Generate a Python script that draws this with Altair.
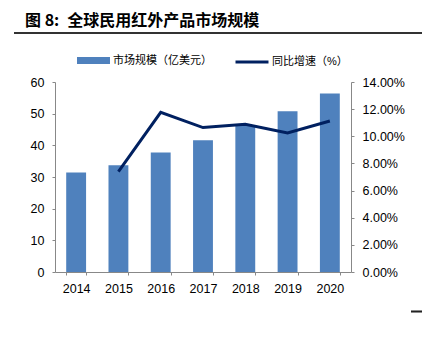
import altair as alt
import pandas as pd

years = ["2014", "2015", "2016", "2017", "2018", "2019", "2020"]
market = [31.4, 33.7, 37.7, 41.6, 46.2, 50.8, 56.4]
growth = [None, 0.0739, 0.1177, 0.1064, 0.1088, 0.1024, 0.1113]
bar_label = "市场规模（亿美元）"
line_label = "同比增速（%）"
left_ticks = [0, 10, 20, 30, 40, 50, 60]
right_ticks = [0, 0.02, 0.04, 0.06, 0.08, 0.10, 0.12, 0.14]
title_text = "图 8:\u2002全球民用红外产品市场规模"

df = pd.DataFrame({"year": years, "market": market, "growth": growth})
df["s1"] = bar_label
df["s2"] = line_label

FONT = "Liberation Sans, Noto Sans CJK SC"
AXC = "#888888"

base = alt.Chart(df).encode(
    x=alt.X(
        "year:N",
        title=None,
        scale=alt.Scale(paddingInner=0.53, paddingOuter=0.265),
        axis=alt.Axis(
            labelAngle=0, labelFontSize=12.5, labelColor="#000000", labelFont=FONT,
            domainColor=AXC, tickColor=AXC, tickSize=3, tickBand="extent",
            labelPadding=7,
        ),
    )
)

bars = base.mark_bar(color="#4F81BD").encode(
    y=alt.Y(
        "market:Q",
        title=None,
        scale=alt.Scale(domain=[0, 60], nice=False),
        axis=alt.Axis(
            values=left_ticks, grid=False, domainColor=AXC, tickColor=AXC, tickSize=3,
            labelFontSize=12.5, labelColor="#000000", labelFont=FONT, labelPadding=8,
        ),
    ),
    fill=alt.Fill(
        "s1:N",
        scale=alt.Scale(range=["#4F81BD"]),
        legend=alt.Legend(
            title=None, orient="none", legendX=30, legendY=-30, padding=0,
            symbolType="M-2,-0.42H2V0.42H-2Z", symbolSize=272, symbolStrokeWidth=0,
            labelFontSize=11, labelFont=FONT, labelColor="#000000", labelOffset=11,
        ),
    ),
)

line = base.mark_line(strokeWidth=3).encode(
    y=alt.Y(
        "growth:Q",
        title=None,
        scale=alt.Scale(domain=[0, 0.14], nice=False),
        axis=alt.Axis(
            values=right_ticks, format=".2%", orient="right", grid=False,
            domainColor=AXC, tickColor=AXC, tickSize=3,
            labelFontSize=12.5, labelColor="#000000", labelFont=FONT, labelPadding=8,
        ),
    ),
    stroke=alt.Stroke(
        "s2:N",
        scale=alt.Scale(range=["#002060"]),
        legend=alt.Legend(
            title=None, orient="none", legendX=187, legendY=-30, padding=0,
            symbolType="M-2,0H2", symbolSize=272, symbolStrokeWidth=3,
            labelFontSize=11, labelFont=FONT, labelColor="#000000", labelOffset=10,
        ),
    ),
)

underline = alt.Chart(df).mark_rule(color="#333333", strokeWidth=1).encode(
    x=alt.value(-41), x2=alt.value(368), y=alt.value(-49)
)
dash = alt.Chart(df).mark_rule(color="#222222", strokeWidth=1.2).encode(
    x=alt.value(356), x2=alt.value(368), y=alt.value(229.5)
)

chart = (
    alt.layer(bars, line, underline, dash)
    .resolve_scale(y="independent", fill="independent", stroke="independent")
    .properties(
        width=296,
        height=190,
        autosize=alt.AutoSizeParams(type="none"),
        padding={"left": 55, "top": 82, "right": 71, "bottom": 82},
        title=alt.TitleParams(
            text=title_text, anchor="start", frame="group", dx=-30, dy=15,
            fontSize=16, fontWeight="bold", font="Noto Sans CJK SC", color="#000000",
            baseline="bottom", offset=3,
        ),
    )
    .configure_view(stroke=None)
)

chart.save("out.html", embed_options={"renderer": "svg", "actions": False})
